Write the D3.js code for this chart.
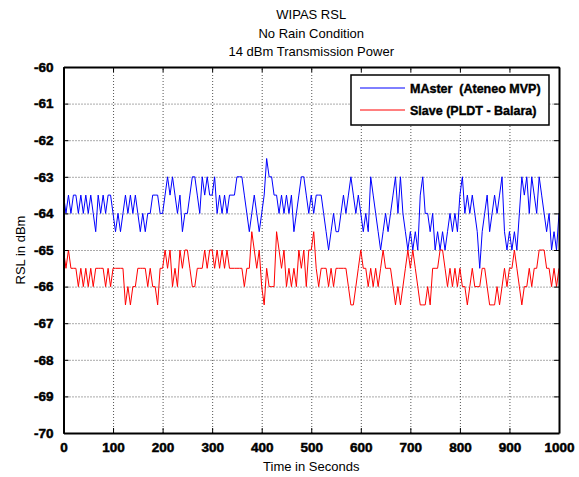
<!DOCTYPE html>
<html>
<head>
<meta charset="utf-8">
<script src="https://cdn.jsdelivr.net/npm/d3@7"></script>
<style>
  body { margin: 0; background: #fff; }
  text { font-family: "Liberation Sans", Arial, sans-serif; }
  .tick text { font-weight: bold; font-size: 13.5px; fill: #000; stroke: #000; stroke-width: 0.5px; }
  .grid line { stroke: #555; stroke-dasharray: 1,2; }
  .grid .domain { display: none; }
</style>
</head>
<body>
<div class="chart"></div>
<script>
// sample times, one reading every 5 s
var time = d3.range(0, 1001, 5);

// MAster (Ateneo MVP), dBm
var master = [
  -63.5,-64,-63.5,-64,-63.5,-63.5,-64,-63.5,-64,-63.5,-64,-63.5,-64,-64.5,-63.5,-64,-63.5,-64,-63.5,-63.5,
  -64,-64.5,-64,-64.5,-64,-63.5,-64,-63.5,-64,-63.5,-64,-64.5,-64,-64.5,-64,-64,-63.5,-63.5,-63.5,-64,
  -64,-63.5,-63,-63.5,-63,-63.5,-64,-63.5,-64.5,-64,-64,-63.5,-63,-63,-63.5,-64,-63,-63.5,-63,-63.5,
  -63.5,-63,-64,-63.5,-64,-63.5,-64,-63.5,-63.5,-63.5,-63,-63,-63,-63.5,-64,-64.5,-64,-63.5,-64,-64.5,
  -64,-63.5,-62.5,-63,-63,-63.5,-63.5,-64,-63.5,-64,-63.5,-64,-63.5,-64.5,-64,-63.5,-63,-63,-63.5,-64,
  -63.5,-64,-63.5,-63.5,-63.5,-64,-64.5,-65,-64.5,-64,-64.5,-64.5,-64,-63.5,-64,-63.5,-63,-63.5,-64,-63.5,
  -64,-64.5,-64,-64.5,-63,-63.5,-64,-64.5,-65,-64.5,-64,-64.5,-64,-63.5,-63,-64,-63,-64,-64.5,-65,
  -64.5,-65,-64.5,-65,-63.5,-63,-64,-64,-64.5,-64,-65,-64.5,-65,-64.5,-65,-64.5,-64,-64.5,-64,-64.5,
  -63.5,-63,-64,-63.5,-64,-63.5,-64,-64.5,-65.5,-64.5,-64,-63.5,-64.5,-64,-63.5,-64,-63.5,-63,-64.5,-65,
  -64.5,-65,-64.5,-65,-64,-63,-63.5,-63,-64,-63,-63.5,-64,-63,-63.5,-64,-64.5,-64,-65,-64.5,-65,-64
];

// Slave (PLDT - Balara), dBm
var slave = [
  -65,-65.5,-65,-65.5,-65.5,-65.5,-66,-65.5,-66,-65.5,-66,-65.5,-66,-65.5,-65.5,-65.5,-65.5,-66,-65.5,-66,
  -65.5,-65.5,-65.5,-65.5,-65.5,-66.5,-66,-66.5,-66,-66,-65.5,-65.5,-65.5,-65.5,-66,-65.5,-66,-66,-66.5,-65.5,
  -65.5,-65,-65.5,-65,-66,-65.5,-66,-65,-65.5,-65,-65,-65.5,-66,-66,-65.5,-65.5,-65.5,-65,-65.5,-65,
  -65,-65.5,-65,-65.5,-65,-65.5,-65,-65.5,-65.5,-65.5,-65.5,-65.5,-65.5,-66,-65.5,-65.5,-64.5,-65,-65.5,-65,
  -66,-66.5,-65.5,-66,-66,-66,-64.5,-65,-65.5,-65,-66,-65.5,-66,-65.5,-66,-65,-65.5,-65,-66,-65,
  -65,-64.5,-65.5,-66,-65.5,-65.5,-65.5,-66,-65.5,-66,-65.5,-65.5,-65.5,-65.5,-65.5,-66,-66.5,-66.5,-66,-65.5,
  -65,-65.5,-65.5,-66,-65.5,-66,-65.5,-66,-65.5,-65,-65.5,-65.5,-65.5,-66,-66.5,-66,-66.5,-66,-65.5,-65,
  -65.5,-65,-65.5,-66,-66.5,-66.5,-66.5,-66,-66.5,-65.5,-65.5,-65.5,-65,-65,-65.5,-66,-65.5,-66,-65.5,-66,
  -65.5,-66,-66,-66.5,-66,-65.5,-66,-66,-66,-65.5,-65.5,-66,-66.5,-66.5,-66.5,-66,-66.5,-66,-65.5,-66,
  -65.5,-65.5,-65,-65.5,-66,-66.5,-66,-66,-65.5,-66,-65.5,-65.5,-65,-65,-65,-65.5,-65.5,-66,-65.5,-66,-65.5
];

var xTicks = d3.range(0, 1001, 100);
var yTicks = d3.range(-70, -59, 1);
var seriesNames = ['MAster  (Ateneo MVP)', 'Slave (PLDT - Balara)'];
var seriesColors = ['#0000ff', '#ff0000'];
var titleLines = ['WIPAS RSL', 'No Rain Condition', '14 dBm Transmission Power'];

(() => {
var W = 579, H = 477;
var pLeft = 63.5, pRight = 559, pTop = 67, pBottom = 433;
var fmt = (d) => String(d);

var svg = d3.select('div.chart')
    .append('svg')
        .attr('width', W)
        .attr('height', H);

var x = d3.scaleLinear().domain([0, 1000]).range([pLeft, pRight]);
var y = d3.scaleLinear().domain([-70, -60]).range([pBottom, pTop]);

// grid
svg.append('g')
    .attr('class', 'grid')
    .attr('transform', 'translate(0,' + pBottom + ')')
    .call(d3.axisBottom(x).tickValues(xTicks).tickSize(-(pBottom - pTop)).tickFormat(''));
svg.append('g')
    .attr('class', 'grid')
    .attr('transform', 'translate(' + pLeft + ',0)')
    .call(d3.axisLeft(y).tickValues(yTicks).tickSize(-(pRight - pLeft)).tickFormat(''));

// lines
var line = d3.line()
    .x((d) => x(d.t))
    .y((d) => y(d.v));

[master, slave].forEach((s, i) => {
    svg.append('path')
        .datum(s.map((v, k) => ({t: time[k], v: v})))
        .attr('fill', 'none')
        .attr('stroke', seriesColors[i])
        .attr('stroke-width', 1)
        .attr('d', line);
});

// axes, ticks pointing inward
svg.append('g')
    .attr('transform', 'translate(0,' + pBottom + ')')
    .call(d3.axisBottom(x).tickValues(xTicks).tickFormat(fmt).tickSizeInner(-5).tickSizeOuter(0).tickPadding(9))
    .call((g) => g.select('.domain').attr('stroke-width', 2));
svg.append('g')
    .attr('transform', 'translate(' + pLeft + ',0)')
    .call(d3.axisLeft(y).tickValues(yTicks).tickFormat(fmt).tickSizeInner(-5).tickSizeOuter(0).tickPadding(10))
    .call((g) => g.select('.domain').attr('stroke-width', 2));
svg.append('g')
    .attr('transform', 'translate(0,' + pTop + ')')
    .call(d3.axisTop(x).tickValues(xTicks).tickSizeInner(-5).tickSizeOuter(0).tickFormat(''))
    .call((g) => g.select('.domain').attr('stroke-width', 2));
svg.append('g')
    .attr('transform', 'translate(' + pRight + ',0)')
    .call(d3.axisRight(y).tickValues(yTicks).tickSizeInner(-5).tickSizeOuter(0).tickFormat(''))
    .call((g) => g.select('.domain').attr('stroke-width', 2));

// titles
var cx = (pLeft + pRight) / 2;
svg.selectAll('.title')
    .data(titleLines)
    .enter()
    .append('text')
        .attr('class', 'title')
        .attr('x', cx)
        .attr('y', (d, i) => 19 + i * 18.5)
        .attr('text-anchor', 'middle')
        .style('font-size', '13px')
        .text((d) => d);

svg.append('text')
    .attr('x', cx)
    .attr('y', 471)
    .attr('text-anchor', 'middle')
    .style('font-size', '13px')
    .text('Time in Seconds');

svg.append('text')
    .attr('transform', 'translate(25,' + ((pTop + pBottom) / 2) + ') rotate(-90)')
    .attr('text-anchor', 'middle')
    .style('font-size', '13px')
    .text('RSL in dBm');

// legend
var lg = svg.append('g').attr('transform', 'translate(351,75)');
lg.append('rect')
    .attr('width', 198)
    .attr('height', 50)
    .attr('fill', '#fff')
    .attr('stroke', '#000')
    .attr('stroke-width', 1.5);
seriesNames.forEach((n, i) => {
    lg.append('line')
        .attr('x1', 9).attr('x2', 54)
        .attr('y1', 13 + i * 22).attr('y2', 13 + i * 22)
        .attr('stroke', seriesColors[i]);
    lg.append('text')
        .attr('x', 59)
        .attr('y', 18 + i * 22)
        .style('font-size', '12.5px')
        .style('font-weight', 'bold')
        .style('stroke', '#000')
        .style('stroke-width', '0.4px')
        .style('white-space', 'pre')
        .text(n);
});
})();
</script>
</body>
</html>
